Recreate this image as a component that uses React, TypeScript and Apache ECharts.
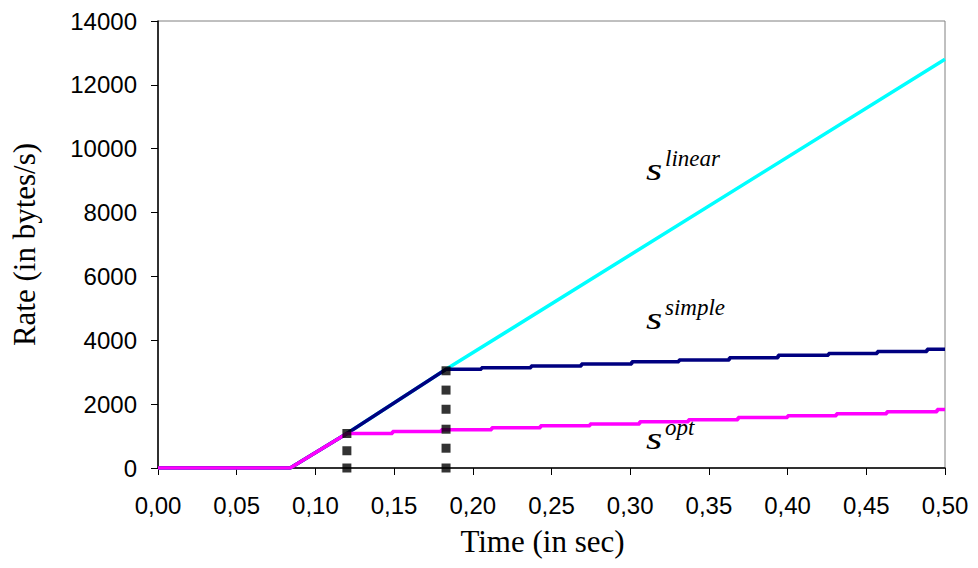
import React, { useEffect, useRef } from "react";
import * as echarts from "echarts";

const rampStart = 0.084;
const optBranch = 0.12;
const optBranchValue = 1080;
const simpleBranch = 0.183;
const simpleBranchValue = 3090;
const linearEndValue = 12800;
const endTime = 0.5;

const optStepTimes = [0.149, 0.18, 0.212, 0.243, 0.2745, 0.306, 0.337, 0.3685, 0.4, 0.431, 0.463, 0.495];
const optLevels = [1080, 1145, 1200, 1260, 1320, 1380, 1450, 1515, 1580, 1640, 1700, 1765, 1830];

const simpleStepTimes = [0.2055, 0.237, 0.269, 0.301, 0.331, 0.363, 0.394, 0.426, 0.457, 0.4886];
const simpleLevels = [3090, 3140, 3195, 3255, 3330, 3385, 3455, 3530, 3590, 3645, 3720];

const markerTimes = [0.12, 0.12, 0.12, 0.183, 0.183, 0.183, 0.183, 0.183, 0.183];
const markerValues = [0, 540, 1080, 0, 620, 1215, 1840, 2440, 3045];

const yTicks = [0, 2000, 4000, 6000, 8000, 10000, 12000, 14000];

function stepped(times: number[], levels: number[]): number[][] {
  const pts: number[][] = [];
  times.forEach((t, i) => {
    pts.push([t, levels[i]]);
    pts.push([t, levels[i + 1]]);
  });
  pts.push([endTime, levels[levels.length - 1]]);
  return pts;
}

const base = [
  [0, 0],
  [rampStart, 0],
  [optBranch, optBranchValue],
];
const optData = [...base, ...stepped(optStepTimes, optLevels)];
const simpleData = [...base, [simpleBranch, simpleBranchValue], ...stepped(simpleStepTimes, simpleLevels)];
const linearData = [...base, [simpleBranch, simpleBranchValue], [endTime, linearEndValue]];
const markerData = markerTimes.map((t, i) => [t, markerValues[i]]);

const serif = "'Liberation Serif', 'Times New Roman', serif";
const sans = "'Liberation Sans', Arial, sans-serif";

export default function App() {
  const ref = useRef<HTMLDivElement>(null);
  useEffect(() => {
    if (!ref.current) return;
    const chart = echarts.init(ref.current, null, { renderer: "svg" });
    const annot = (x: number, y: number, sup: string, supY: number) => [
      {
        type: "text",
        x,
        y,
        scaleX: 1.35,
        style: { text: "s", font: `italic 31px ${serif}`, fill: "#000", verticalAlign: "middle", align: "left" },
      },
      {
        type: "text",
        x: x + 19,
        y: supY,
        style: { text: sup, font: `italic 23px ${serif}`, fill: "#000", verticalAlign: "middle", align: "left" },
      },
    ];
    chart.setOption({
      animation: false,
      backgroundColor: "#fff",
      grid: {
        left: 158,
        right: 33,
        top: 21,
        bottom: 100,
        show: true,
        borderColor: "#808080",
        borderWidth: 1,
        containLabel: false,
      },
      xAxis: {
        type: "value",
        min: 0,
        max: 0.5,
        interval: 0.05,
        name: "Time (in sec)",
        nameLocation: "middle",
        nameGap: 58,
        nameTextStyle: { fontFamily: serif, fontSize: 31, color: "#000", padding: [0, 18, 0, 0] },
        axisLine: { show: true, onZero: false, lineStyle: { color: "#000", width: 1.5 } },
        axisTick: { show: true, length: 7, inside: false, lineStyle: { color: "#000" } },
        axisLabel: {
          margin: 25,
          fontFamily: sans,
          fontSize: 24,
          color: "#000",
          formatter: (v: number) => v.toFixed(2).replace(".", ","),
        },
        splitLine: { show: false },
      },
      yAxis: {
        type: "value",
        min: 0,
        max: yTicks[yTicks.length - 1],
        interval: yTicks[1] - yTicks[0],
        name: "Rate (in bytes/s)",
        nameLocation: "middle",
        nameGap: 118,
        nameRotate: 90,
        nameTextStyle: { fontFamily: serif, fontSize: 31, color: "#000" },
        axisLine: { show: true, lineStyle: { color: "#000", width: 1.5 } },
        axisTick: { show: true, length: 7, inside: false, lineStyle: { color: "#000" } },
        axisLabel: {
          margin: 21,
          fontFamily: sans,
          fontSize: 24,
          color: "#000",
          formatter: (v: number) => String(v),
        },
        splitLine: { show: false },
      },
      series: [
        {
          name: "s linear",
          type: "line",
          data: linearData,
          showSymbol: false,
          symbol: "none",
          lineStyle: { color: "#00FFFF", width: 3.5 },
          z: 2,
        },
        {
          name: "s simple",
          type: "line",
          data: simpleData,
          showSymbol: false,
          symbol: "none",
          lineStyle: { color: "#000080", width: 3.5 },
          z: 3,
        },
        {
          name: "s opt",
          type: "line",
          data: optData,
          showSymbol: false,
          symbol: "none",
          lineStyle: { color: "#FF00FF", width: 3.5 },
          z: 4,
        },
        {
          name: "markers",
          type: "scatter",
          data: markerData,
          symbol: "rect",
          symbolSize: 9,
          itemStyle: { color: "#000" },
          z: 5,
          clip: false,
        },
      ],
      graphic: [
        ...annot(646, 169.5, "linear", 158),
        ...annot(646, 318, "simple", 307.5),
        ...annot(646, 438, "opt", 427.5),
      ],
    });
    return () => chart.dispose();
  }, []);
  return <div ref={ref} style={{ width: 978, height: 568, margin: -8 }} />;
}
